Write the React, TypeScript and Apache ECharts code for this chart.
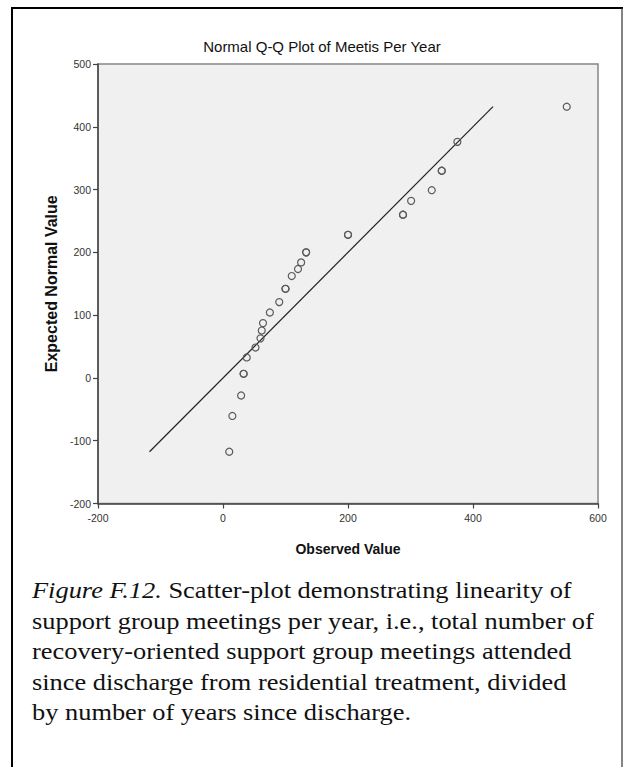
import React, { useEffect, useRef } from "react";
import * as echarts from "echarts";

// Observed values (sorted) and their expected normal values; repeated entries are tied observations
const observedValues = [10, 15, 29, 33, 33, 38, 52, 60, 62, 64, 75, 90, 100, 100, 110, 120, 125, 133, 133, 200, 200, 288, 288, 301, 334, 350, 350, 375, 550];
const expectedValues = [-117.6, -60.6, -28, 6.6, 6.6, 32.6, 48.4, 63, 75.5, 87.3, 104.2, 120.8, 142, 142, 162.3, 173.5, 184, 200, 200, 228, 228, 260, 260, 282, 299, 330, 330, 376, 432];

const xTickValues = [-200, 0, 200, 400, 600];
const yTickValues = [-200, -100, 0, 100, 200, 300, 400, 500];

const chartTitle = "Normal Q-Q Plot of Meetis Per Year";
const xAxisTitle = "Observed Value";
const yAxisTitle = "Expected Normal Value";
const captionLabel = "Figure F.12.";
const captionLines = [
  " Scatter-plot demonstrating linearity of",
  "support group meetings per year, i.e., total number of",
  "recovery-oriented support group meetings attended",
  "since discharge from residential treatment, divided",
  "by number of years since discharge.",
];

const SANS = "'Liberation Sans', Arial, sans-serif";
const SERIF = "'Liberation Serif', 'Times New Roman', serif";

export default function App() {
  const ref = useRef<HTMLDivElement>(null);

  useEffect(() => {
    if (!ref.current) return;
    const chart = echarts.init(ref.current, undefined, { renderer: "svg" });

    const points = observedValues.map((v, i) => [v, expectedValues[i]]);
    const lo = Math.min(...expectedValues);
    const hi = Math.max(...expectedValues);
    const xMin = xTickValues[0];
    const xMax = xTickValues[xTickValues.length - 1];
    const xStep = xTickValues[1] - xTickValues[0];
    const yMin = yTickValues[0];
    const yMax = yTickValues[yTickValues.length - 1];
    const yStep = yTickValues[1] - yTickValues[0];

    const captionText =
      "{i|" + captionLabel + "}" + captionLines[0] + "\n" + captionLines.slice(1).join("\n");

    chart.setOption({
      animation: false,
      backgroundColor: "#ffffff",
      title: {
        text: chartTitle,
        left: 317,
        top: 34,
        textAlign: "center",
        textStyle: { fontFamily: SANS, fontSize: 15, fontWeight: "normal", color: "#111" },
      },
      grid: {
        left: 98,
        right: 25,
        top: 64,
        bottom: 263.5,
        show: true,
        backgroundColor: "#f0f0f0",
        borderColor: "#858585",
        borderWidth: 1.5,
      },
      xAxis: {
        type: "value",
        min: xMin,
        max: xMax,
        interval: xStep,
        name: xAxisTitle,
        nameLocation: "middle",
        nameGap: 38,
        nameTextStyle: { fontFamily: SANS, fontSize: 14, fontWeight: "bold", color: "#111" },
        axisLine: { show: true, onZero: false, lineStyle: { color: "#444", width: 1.5 } },
        axisTick: { show: true, inside: false, length: 5, lineStyle: { color: "#444", width: 1.2 } },
        axisLabel: { fontFamily: SANS, fontSize: 10.5, color: "#333", margin: 9 },
        splitLine: { show: false },
      },
      yAxis: {
        type: "value",
        min: yMin,
        max: yMax,
        interval: yStep,
        name: yAxisTitle,
        nameLocation: "middle",
        nameGap: 38,
        nameTextStyle: { fontFamily: SANS, fontSize: 16, fontWeight: "bold", color: "#111" },
        axisLine: { show: true, onZero: false, lineStyle: { color: "#444", width: 1.5 } },
        axisTick: { show: true, inside: false, length: 5, lineStyle: { color: "#444", width: 1.2 } },
        axisLabel: { fontFamily: SANS, fontSize: 10.5, color: "#333", margin: 7 },
        splitLine: { show: false },
      },
      series: [
        {
          type: "line",
          data: [[lo, lo], [hi, hi]],
          symbol: "none",
          silent: true,
          lineStyle: { color: "#222", width: 1.2 },
          z: 2,
        },
        {
          type: "scatter",
          data: points,
          symbol: "circle",
          symbolSize: 7,
          itemStyle: { color: "transparent", borderColor: "#5a5a5a", borderWidth: 1.2, opacity: 1 },
          z: 3,
        },
      ],
      graphic: [
        { type: "line", shape: { x1: 12, y1: 7, x2: 12, y2: 767 }, style: { stroke: "#000", lineWidth: 2 } },
        { type: "line", shape: { x1: 11, y1: 8, x2: 623, y2: 8 }, style: { stroke: "#000", lineWidth: 2 } },
        { type: "line", shape: { x1: 622, y1: 8, x2: 622, y2: 767 }, style: { stroke: "#333", lineWidth: 1.2 } },
        {
          type: "text",
          x: 32,
          y: 575,
          scaleX: 1.1,
          style: {
            text: captionText,
            fontFamily: SERIF,
            fontSize: 24,
            lineHeight: 30.5,
            fill: "#111",
            rich: {
              i: { fontStyle: "italic", fontFamily: SERIF, fontSize: 24, lineHeight: 30.5, fill: "#111" },
            },
          },
        },
      ],
    });

    return () => chart.dispose();
  }, []);

  return (
    <div
      style={{ position: "absolute", left: 0, top: 0, width: 623, height: 767, background: "#fff" }}
    >
      <div ref={ref} style={{ width: 623, height: 767 }} />
    </div>
  );
}
